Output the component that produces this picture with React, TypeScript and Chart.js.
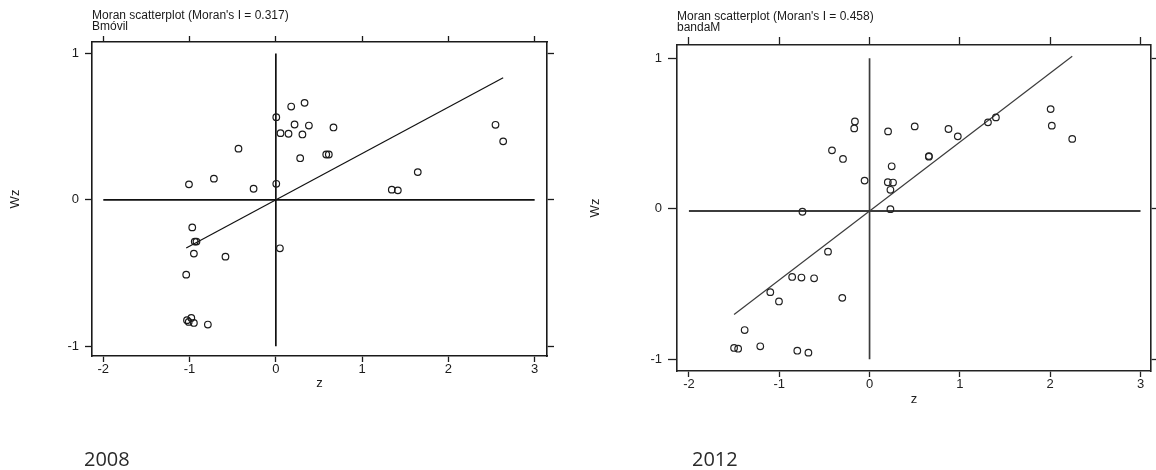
import React, { useEffect, useRef } from "react";
import { Chart, registerables } from "chart.js";

Chart.register(...registerables);
Chart.defaults.font.family = "'Liberation Sans', Arial, sans-serif";

// ---- shared tick values ----
const xTickValues = [-2, -1, 0, 1, 2, 3];
const yTickValues = [-1, 0, 1];

// ---- 2008 panel (Bmóvil) ----
const varName2008 = "Bmóvil";
const yearLabel2008 = "2008";
const moranI2008 = 0.317;
const meanWz2008 = 0;
const z2008 = [
  0.005, 0.178, 0.333, 0.217, 0.383, 0.668, 0.054, 0.147, 0.308, 0.282, 0.584, 0.614,
  -0.258, 0.005, 1.344, 1.414, 1.645, 2.546, 2.635, -0.433, -1.007, -0.718, -0.969,
  -0.94, -0.92, -0.95, -0.584, 0.047, -1.039, -1.03, -1.01, -0.98, -0.95, -0.788,
];
const wz2008 = [
  0.565, 0.638, 0.663, 0.515, 0.508, 0.495, 0.456, 0.452, 0.447, 0.285, 0.31, 0.31,
  0.076, 0.11, 0.07, 0.065, 0.19, 0.513, 0.4, 0.35, 0.106, 0.145, -0.188,
  -0.285, -0.285, -0.367, -0.388, -0.331, -0.511, -0.822, -0.834, -0.807, -0.841, -0.852,
];

// ---- 2012 panel (bandaM) ----
const varName2012 = "bandaM";
const yearLabel2012 = "2012";
const moranI2012 = 0.458;
const meanWz2012 = -0.015;
const z2012 = [
  -0.162, -0.17, 0.205, 0.5, 0.874, 0.977, -0.416, -0.294, 0.657, 0.657, 0.245, -0.055,
  0.202, 0.26, 0.231, 0.231, -0.743, -0.46, -0.857, -0.754, -0.614, -1.099, -1.003,
  -0.302, -1.383, -1.5, -1.455, -1.21, -0.8, -0.677, 1.311, 1.399, 2.005, 2.018, 2.244,
];
const wz2012 = [
  0.58, 0.534, 0.514, 0.547, 0.53, 0.481, 0.388, 0.331, 0.346, 0.35, 0.282, 0.187,
  0.176, 0.174, 0.126, -0.003, -0.02, -0.285, -0.453, -0.457, -0.462, -0.554, -0.616,
  -0.592, -0.806, -0.925, -0.93, -0.914, -0.943, -0.956, 0.574, 0.607, 0.662, 0.552, 0.464,
];

type PanelProps = {
  z: number[];
  wz: number[];
  slope: number;
  mean: number;
  canvasLeft: number;
  width: number;
  height: number;
  area: { left: number; right: number; top: number; bottom: number };
  xRange: [number, number];
  yRange: [number, number];
  color: string;
  lineColor: string;
  ticksLen: { left: number; right: number; top: number; bottom: number };
  yLabelPad: number;
  xTitlePad: number;
};

function MoranPanel(p: PanelProps) {
  const ref = useRef<HTMLCanvasElement | null>(null);
  useEffect(() => {
    if (!ref.current) return;
    const zMin = Math.min(...p.z);
    const zMax = Math.max(...p.z);
    const setX = (s: any) => {
      s.ticks = xTickValues.map((v) => ({ value: v }));
    };
    const setY = (s: any) => {
      s.ticks = yTickValues.map((v) => ({ value: v }));
    };
    const border = { display: true, color: p.color, width: 1.6 };
    const grid = (len: number) => ({
      drawOnChartArea: false,
      drawTicks: true,
      tickLength: len,
      color: p.color,
      tickColor: p.color,
      tickWidth: 1.3,
    });
    const chart = new Chart(ref.current, {
      type: "scatter",
      data: {
        datasets: [
          {
            data: p.z.map((v, i) => ({ x: v, y: p.wz[i] })),
            pointStyle: "circle",
            pointRadius: 3.3,
            pointBorderWidth: 1.2,
            borderColor: p.color,
            backgroundColor: "rgba(0,0,0,0)",
            showLine: false,
          },
          {
            data: [
              { x: zMin, y: p.mean + p.slope * zMin },
              { x: zMax, y: p.mean + p.slope * zMax },
            ],
            showLine: true,
            borderColor: p.lineColor,
            borderWidth: 1.2,
            pointRadius: 0,
          },
          {
            data: [
              { x: xTickValues[0], y: p.mean },
              { x: xTickValues[xTickValues.length - 1], y: p.mean },
            ],
            showLine: true,
            borderColor: p.lineColor,
            borderWidth: 1.8,
            pointRadius: 0,
          },
          {
            data: [
              { x: 0, y: yTickValues[0] },
              { x: 0, y: yTickValues[yTickValues.length - 1] },
            ],
            showLine: true,
            borderColor: p.lineColor,
            borderWidth: 1.7,
            pointRadius: 0,
          },
        ],
      },
      options: {
        animation: false,
        responsive: false,
        maintainAspectRatio: false,
        events: [],
        layout: { padding: 0 },
        plugins: {
          legend: { display: false },
          tooltip: { enabled: false },
          title: { display: false },
        },
        scales: {
          x: {
            type: "linear",
            position: "bottom",
            min: p.xRange[0],
            max: p.xRange[1],
            afterBuildTicks: setX,
            afterFit: (s: any) => {
              s.height = p.height - p.area.bottom;
            },
            grid: grid(p.ticksLen.bottom),
            border,
            ticks: { color: p.color, font: { size: 13 }, padding: 0, maxRotation: 0, autoSkip: false },
            title: {
              display: true,
              text: "z",
              color: p.color,
              font: { size: 13 },
              padding: { top: 0, bottom: p.xTitlePad },
            },
          },
          x2: {
            type: "linear",
            axis: "x",
            position: "top",
            min: p.xRange[0],
            max: p.xRange[1],
            afterBuildTicks: setX,
            afterFit: (s: any) => {
              s.height = p.area.top;
            },
            grid: grid(p.ticksLen.top),
            border,
            ticks: { display: false },
          },
          y: {
            type: "linear",
            position: "left",
            min: p.yRange[0],
            max: p.yRange[1],
            afterBuildTicks: setY,
            afterFit: (s: any) => {
              s.width = p.area.left;
            },
            grid: grid(p.ticksLen.left),
            border,
            ticks: { color: p.color, font: { size: 13 }, padding: p.yLabelPad },
            title: {
              display: true,
              text: "Wz",
              color: p.color,
              font: { size: 13 },
              padding: { top: 8, bottom: 0 },
            },
          },
          y2: {
            type: "linear",
            axis: "y",
            position: "right",
            min: p.yRange[0],
            max: p.yRange[1],
            afterBuildTicks: setY,
            afterFit: (s: any) => {
              s.width = p.width - p.area.right;
            },
            grid: grid(p.ticksLen.right),
            border,
            ticks: { display: false },
          },
        },
      } as any,
    });
    return () => chart.destroy();
  }, []);
  return (
    <canvas
      ref={ref}
      width={p.width}
      height={p.height}
      style={{ position: "absolute", left: p.canvasLeft, top: 0, width: p.width, height: p.height }}
    />
  );
}

const titleStyle: React.CSSProperties = {
  position: "absolute",
  font: "12px 'Liberation Sans', Arial, sans-serif",
  color: "#1a1a1a",
  whiteSpace: "nowrap",
};

const yearStyle: React.CSSProperties = {
  position: "absolute",
  font: "20px 'Open Sans', sans-serif",
  lineHeight: "20px",
  color: "#2a2a2a",
  whiteSpace: "nowrap",
};

export default function App() {
  return (
    <div
      style={{
        position: "absolute",
        left: 0,
        top: 0,
        width: 1156,
        height: 470,
        background: "#fff",
        overflow: "hidden",
      }}
    >
      <MoranPanel
        z={z2008}
        wz={wz2008}
        slope={moranI2008}
        mean={meanWz2008}
        canvasLeft={0}
        width={580}
        height={470}
        area={{ left: 92, right: 547, top: 42, bottom: 356 }}
        xRange={[-2.131, 3.143]}
        yRange={[-1.067, 1.079]}
        color="#1a1a1a"
        lineColor="#111"
        ticksLen={{ left: 7, right: 7, top: 6, bottom: 6 }}
        yLabelPad={6}
        xTitlePad={79}
      />
      <MoranPanel
        z={z2012}
        wz={wz2012}
        slope={moranI2012}
        mean={meanWz2012}
        canvasLeft={580}
        width={576}
        height={470}
        area={{ left: 97, right: 573, top: 45, bottom: 371 }}
        xRange={[-2.132, 3.114]}
        yRange={[-1.078, 1.088]}
        color="#222"
        lineColor="#3c3c3c"
        ticksLen={{ left: 9, right: 7, top: 8, bottom: 6 }}
        yLabelPad={6}
        xTitlePad={63}
      />
      <div style={{ ...titleStyle, left: 92, top: 9.5, lineHeight: "11px" }}>
        {`Moran scatterplot (Moran's I = ${moranI2008.toFixed(3)})`}
        <br />
        {varName2008}
      </div>
      <div style={{ ...titleStyle, left: 677, top: 10.5, lineHeight: "11.5px" }}>
        {`Moran scatterplot (Moran's I = ${moranI2012.toFixed(3)})`}
        <br />
        {varName2012}
      </div>
      <div style={{ ...yearStyle, left: 84, top: 449 }}>{yearLabel2008}</div>
      <div style={{ ...yearStyle, left: 692, top: 449 }}>{yearLabel2012}</div>
    </div>
  );
}
